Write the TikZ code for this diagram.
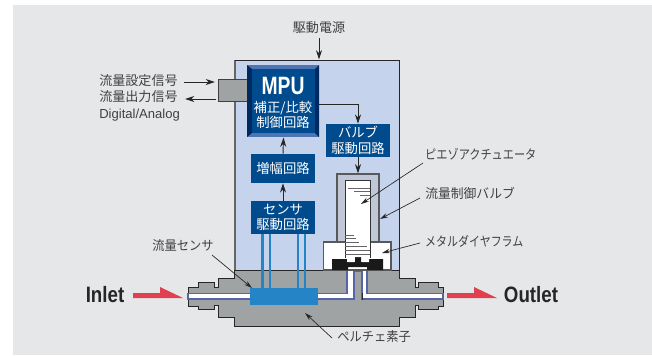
\documentclass[tikz,border=0pt]{standalone}
\usepackage{fontspec}
\setmainfont{Noto Sans CJK JP}
\newfontfamily\latinf{Liberation Sans}
\usetikzlibrary{arrows.meta}
\definecolor{bgc}{HTML}{E6E7E9}
\definecolor{panel}{HTML}{C6D3EC}
\definecolor{navy}{HTML}{004B8D}
\definecolor{bevl}{HTML}{4F74B4}
\definecolor{bevd}{HTML}{00295F}
\definecolor{body}{HTML}{9FA3A3}
\definecolor{tubeb}{HTML}{5565A8}
\definecolor{sens}{HTML}{2484C6}
\definecolor{red1}{HTML}{E04050}
\tikzset{x=0.75pt,y=-0.75pt,
 lab/.style={font=\fontsize{9.8}{12.4}\selectfont,text=black!75,inner sep=0pt,align=left},
 blk/.style={fill=navy,text=white,font=\fontsize{10}{11.5}\selectfont,align=center,inner sep=0pt,minimum width=48pt},
 conn/.style={draw=black!85,line width=0.7pt,-{Stealth[length=7pt,width=4.5pt]}},
 lead/.style={draw=black!85,line width=0.5pt,-{Stealth[length=6pt,width=3.4pt]}},
 big/.style={font=\latinf\bfseries\fontsize{16.7}{16.7}\selectfont,text=black!85,inner sep=0pt,xscale=.84},
 bigarrow/.style={fill=red1}}
\begin{document}
\begin{tikzpicture}
\useasboundingbox (0,0) rectangle (652,355);
\fill[bgc] (13,5) rectangle (652,355);
% panel
\fill[panel] (235,60) rectangle (399,275);
\draw[black!60,line width=0.9pt] (235,275) -- (235,60);
\draw[black!85,line width=0.7pt] (235,60) -- (399,60) -- (399,275);
% body
\draw[fill=body,draw=black!85,line width=0.7pt] (234,270) -- (399,270) -- (399,278) -- (415,278) -- (415,287) -- (418,287) -- (418,282) -- (438,282) -- (438,287) -- (443,287) -- (443,306) -- (438,306) -- (438,309) -- (418,309) -- (418,305) -- (415,305) -- (415,317) -- (399,317) -- (399,326) -- (234,326) -- (234,317) -- (218,317) -- (218,305) -- (214,305) -- (214,309) -- (198,309) -- (198,306) -- (188,306) -- (188,287) -- (198,287) -- (198,282) -- (214,282) -- (214,287) -- (218,287) -- (218,278) -- (234,278) -- cycle;
% tube
\draw[fill=white,draw=tubeb,line width=1pt] (188,293.500) -- (347,293.500) -- (347,267.500) -- (367,267.500) -- (367,293.500) -- (443,293.500) -- (443,299) -- (362,299) -- (362,271) -- (354,271) -- (354,299) -- (188,299) -- cycle;
\draw[black!85,line width=0.5pt] (362,293) -- (362,299.500);
% valve housing
\draw[fill=panel!75!gray!85,draw=black!65,line width=0.8pt] (337,174) rectangle (379,243);
\draw[fill=white,draw=black!65,line width=0.8pt] (323.500,242) rectangle (391,270);
\fill[black!90] (332,259) rectangle (348,270) (367,259) rectangle (383,270) (345,262) rectangle (371,267) (355,256) rectangle (361,264);
% piezo
\fill[white] (345,180) rectangle (370,257) (347,257) rectangle (354,262) (362,257) rectangle (369,262);
\draw[black!80,line width=0.7pt] (345,258) -- (345,180) -- (370,180) -- (370,258);
\foreach \ya/\xa/\xb in {188/348/370,191/354/370,195/360/370,235/345/354,238/345/356,242/345/359,246/345/367,250/345/370,254/345/370}
  \draw[black!60,line width=0.6pt] (\xa,\ya) -- (\xb,\ya);
% sensor
\node[fill=sens,inner sep=0pt,minimum width=51pt,minimum height=12.750pt] (sensor) at (284,296.500) {};
% connector block
\node[draw=black!75,fill=body,line width=0.7pt,inner sep=0pt,minimum width=24pt,minimum height=17pt] (conn) at (234,90.500) {};
% MPU
\fill[bevl] (247,65) rectangle (319,137);
\fill[bevd] (247,65) -- (252,69) -- (252,133) -- (247,137) -- cycle (319,65) -- (315,69) -- (315,133) -- (319,137) -- cycle;
\node[fill=navy,inner sep=0pt,minimum width=47.250pt,minimum height=48pt] (mpu) at (283.500,101) {};
\node[text=white,font=\latinf\fontsize{18.8}{18.8}\selectfont\bfseries,inner sep=0pt,xscale=.77] (mputxt) at (283,86) {MPU};
\node[text=white,font=\fontsize{10}{11.5}\selectfont,align=center,inner sep=0pt] (mpusub) at (283,115) {補正/比較\\制御回路};
\node[blk,minimum height=21.750pt] (amp) at (283,168.500) {増幅回路};
\node[blk,minimum height=24.750pt] (sdrv) at (283,217.500) {センサ\\駆動回路};
\node[blk,minimum height=24.750pt] (vdrv) at (358,140.500) {バルブ\\駆動回路};
% wires, sensor to drive block
\foreach \xx in {262.500,270,298,305}
  \draw[sens,line width=1.6pt] (\xx,234) -- (\xx,288);
\coordinate (piezotop) at (358,173.500);
\coordinate (panelTop) at (319,59.500);
\coordinate (mpuR) at (319,104);
\node[lab] (power) at (319,28) {駆動電源};
\draw[conn] (power.south |- 0,38) -- (panelTop);
\draw[conn] (amp.north) -- (283.500,137.500);
\draw[conn] (sdrv.north) -- (amp.south);
\draw[conn] (mpuR) -| (vdrv.north);
\draw[conn] (vdrv.south) -- (piezotop);
% sides
\node[lab,anchor=north west] (sigs) at (99,74) {流量設定信号\\流量出力信号\\{\latinf Digital/Analog}};
\coordinate (sa) at (184,82);
\coordinate (sb) at (215,82);
\coordinate (sc) at (216,99);
\coordinate (sd) at (185,99);
\draw[conn] (sa) -- (sb);
\draw[conn] (sc) -- (sd);
% labels
\node[lab,anchor=west,xscale=.855] (l1) at (425,154) {ピエゾアクチュエータ};
\node[lab,anchor=west,xscale=.98] (l2) at (425,193) {流量制御バルブ};
\node[lab,anchor=west,xscale=.84] (l3) at (425,241) {メタルダイヤフラム};
\node[lab,anchor=east,xscale=.94] (l4) at (214,246) {流量センサ};
\node[lab,anchor=west,xscale=.94] (l5) at (337,337) {ペルチェ素子};
\coordinate (t1) at (361,204);
\coordinate (t2) at (380,219);
\coordinate (t3) at (382,253);
\coordinate (t4) at (252,288);
\coordinate (t5) at (305,313);
\draw[lead] (423,163) -- (t1);
\draw[lead] (420,198) -- (t2);
\draw[lead] (420,243) -- (t3);
\draw[lead] (212,255) -- (t4);
\draw[lead] (332,338) -- (t5);
% big arrows
\node[big] (inl) at (105,295) {Inlet};
\node[big] (outl) at (531,295) {Outlet};
\fill[bigarrow] (133,293) -- (160,293) -- (160,287) -- (183,298) -- (133,298) -- cycle;
\fill[bigarrow] (447,293) -- (474,293) -- (474,287) -- (497,298) -- (447,298) -- cycle;
\end{tikzpicture}
\end{document}
